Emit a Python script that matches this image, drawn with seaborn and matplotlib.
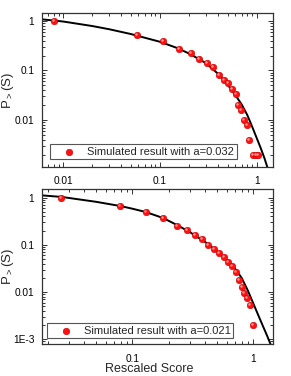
import matplotlib
matplotlib.use('Agg')
import matplotlib.pyplot as plt
import matplotlib.ticker as mticker
import matplotlib.transforms as mtransforms
import seaborn as sns

# upper panel, a = 0.032
top_score = [0.0081, 0.058, 0.107, 0.158, 0.208, 0.256, 0.305, 0.353, 0.405, 0.455, 0.505,
             0.557, 0.605, 0.644, 0.686, 0.745, 0.788, 0.84, 0.915, 0.975, 1.035]
top_prob = [1.0, 0.53, 0.39, 0.27, 0.228, 0.17, 0.14, 0.115, 0.08, 0.064, 0.055,
            0.042, 0.033, 0.020, 0.0156, 0.010, 0.008, 0.004, 0.002, 0.002, 0.002]
top_fit_score = [0.006, 0.01, 0.02, 0.03, 0.05, 0.1, 0.15, 0.2, 0.3, 0.4, 0.5,
                 0.6, 0.7, 0.8, 0.9, 1.0, 1.1, 1.2, 1.3, 1.4, 1.5]
top_fit_prob = [1.08, 0.975, 0.79, 0.68, 0.545, 0.38, 0.285, 0.22, 0.14, 0.085, 0.052,
                0.032, 0.0205, 0.0125, 0.0072, 0.0043, 0.0027, 0.0017, 0.00105, 0.00065, 0.0004]
top_label = 'Simulated result with a=0.032'

# lower panel, a = 0.021
bot_score = [0.0258, 0.079, 0.129, 0.180, 0.233, 0.282, 0.330, 0.377, 0.425, 0.476, 0.521,
             0.573, 0.621, 0.670, 0.716, 0.757, 0.801, 0.843, 0.892, 0.939, 0.995]
bot_prob = [1.0, 0.667, 0.505, 0.366, 0.251, 0.21, 0.162, 0.133, 0.0995, 0.0818, 0.0673,
            0.0546, 0.044, 0.0362, 0.0262, 0.018, 0.013, 0.0094, 0.0074, 0.0052, 0.002]
bot_fit_score = [0.018, 0.026, 0.05, 0.08, 0.1, 0.13, 0.18, 0.233, 0.3, 0.4, 0.5,
                 0.6, 0.7, 0.8, 0.9, 1.0, 1.1, 1.2, 1.3, 1.4, 1.5]
bot_fit_prob = [1.12, 1.04, 0.82, 0.665, 0.585, 0.495, 0.37, 0.265, 0.185, 0.115, 0.074,
                0.0485, 0.0325, 0.020, 0.0108, 0.0057, 0.0032, 0.0019, 0.00118, 0.00074, 0.00046]
bot_label = 'Simulated result with a=0.021'

top_xticks = [0.01, 0.1, 1]
top_xticklabels = ['0.01', '0.1', '1']
top_yticks = [0.01, 0.1, 1]
top_yticklabels = ['0.01', '0.1', '1']
bot_xticks = [0.1, 1]
bot_xticklabels = ['0.1', '1']
bot_yticks = [0.001, 0.01, 0.1, 1]
bot_yticklabels = ['1E-3', '0.01', '0.1', '1']

sns.set_style('ticks')
plt.rcParams['font.family'] = ['Liberation Sans', 'DejaVu Sans']
plt.rcParams['mathtext.fontset'] = 'custom'
plt.rcParams['mathtext.rm'] = 'Liberation Sans'

FRAME = '#333333'


def draw_panel(fig, ax, score, prob, fit_score, fit_prob, label, xlim, ylim,
               xticks, xticklabels, yticks, yticklabels, legend_anchor):
    sns.lineplot(x=fit_score, y=fit_prob, ax=ax, color='black', linewidth=1.4,
                 legend=False, zorder=2)
    sns.scatterplot(x=score, y=prob, ax=ax, color='#ff1010', s=22,
                    edgecolor='#c80000', linewidth=0.4, label=label, zorder=3)
    # small shine on the balls, up and left of centre
    shine = ax.transData + mtransforms.ScaledTranslation(-0.7 / 72, 0.7 / 72,
                                                         fig.dpi_scale_trans)
    sns.scatterplot(x=score, y=prob, ax=ax, color='#ff9a9a', s=3, linewidth=0,
                    transform=shine, legend=False, zorder=4)
    ax.set_xscale('log')
    ax.set_yscale('log')
    ax.set_xlim(*xlim)
    ax.set_ylim(*ylim)

    ax.xaxis.set_major_locator(mticker.FixedLocator(xticks))
    ax.xaxis.set_major_formatter(mticker.FixedFormatter(xticklabels))
    ax.yaxis.set_major_locator(mticker.FixedLocator(yticks))
    ax.yaxis.set_major_formatter(mticker.FixedFormatter(yticklabels))
    ax.xaxis.set_minor_locator(mticker.LogLocator(base=10, subs=range(2, 10)))
    ax.yaxis.set_minor_locator(mticker.LogLocator(base=10, subs=range(2, 10)))
    ax.xaxis.set_minor_formatter(mticker.NullFormatter())
    ax.yaxis.set_minor_formatter(mticker.NullFormatter())

    ax.tick_params(which='both', direction='in', top=True, right=True,
                   color=FRAME, width=0.7, labelsize=7.3, labelcolor='black')
    ax.tick_params(which='major', length=3.5)
    ax.tick_params(which='minor', length=2)
    ax.tick_params(axis='x', which='major', pad=6.8)
    ax.tick_params(axis='y', which='major', pad=5.5)
    for sp in ax.spines.values():
        sp.set_visible(True)
        sp.set_color(FRAME)
        sp.set_linewidth(0.9)

    ax.set_ylabel(r'P$_{>}$(S)', fontsize=9.5)
    ax.yaxis.set_label_coords(-0.112, 0.5)

    leg = ax.legend(loc='lower left', bbox_to_anchor=legend_anchor, borderaxespad=0,
                    fontsize=8, frameon=True, fancybox=False, framealpha=1,
                    edgecolor='#555555', handlelength=3.0, handletextpad=0.15,
                    borderpad=0.22, markerscale=1.0)
    leg.get_frame().set_linewidth(0.8)


fig = plt.figure(figsize=(2.91, 3.76), dpi=100)
ax_top = fig.add_axes([0.1443, 0.5567, 0.795, 0.408])
ax_bot = fig.add_axes([0.1443, 0.0843, 0.795, 0.413])

draw_panel(fig, ax_top, top_score, top_prob, top_fit_score, top_fit_prob, top_label,
           (0.00605, 1.484), (0.00114, 1.43),
           top_xticks, top_xticklabels, top_yticks, top_yticklabels, (0.034, 0.05))
draw_panel(fig, ax_bot, bot_score, bot_prob, bot_fit_score, bot_fit_prob, bot_label,
           (0.0179, 1.463), (0.00078, 1.53),
           bot_xticks, bot_xticklabels, bot_yticks, bot_yticklabels, (0.02, 0.039))

ax_top.set_xlabel('')
ax_bot.set_xlabel('Rescaled Score', fontsize=9)
ax_bot.xaxis.set_label_coords(0.463, -0.118)

fig.savefig('out.png', dpi=100)
